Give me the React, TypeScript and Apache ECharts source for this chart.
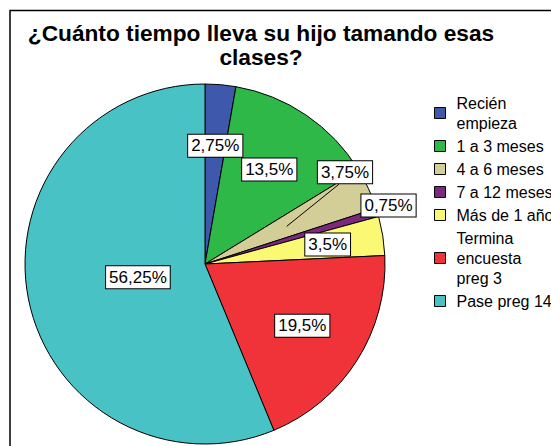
import React, { useEffect, useRef } from "react";
import * as echarts from "echarts";

const categories = [
  "Recién\nempieza",
  "1 a 3 meses",
  "4 a 6 meses",
  "7 a 12 meses",
  "Más de 1 año",
  "Termina\nencuesta\npreg 3",
  "Pase preg 14",
];
const values = [2.75, 13.5, 3.75, 0.75, 3.5, 19.5, 56.25];
const valueLabels = ["2,75%", "13,5%", "3,75%", "0,75%", "3,5%", "19,5%", "56,25%"];
const colors = ["#3E58AC", "#2EB848", "#D3CE97", "#7C287D", "#FBF873", "#EF3338", "#48C2C5"];

// label placement (fraction of radius, angular shift in degrees)
const labelRadius = [0.66, 0.635, 0.93, 1.07, 0.69, 0.64, 0.38];
const labelAngleShift = [0, 0, -8.5, -1, 0, 0, 0];
const leaderIndex = 2;

const CX = 205;
const CY = 264;
const R = 180;
const FONT = "'Liberation Sans', Arial, sans-serif";

export default function App() {
  const ref = useRef<HTMLDivElement>(null);
  useEffect(() => {
    if (!ref.current) return;
    const chart = echarts.init(ref.current, undefined, { renderer: "svg" });
    const total = values.reduce((a, b) => a + b, 0);
    const midFrac = values.map((v, i) => {
      const before = values.slice(0, i).reduce((a, b) => a + b, 0);
      return (before + v / 2) / total;
    });
    const labelPos = values.map((_, i) => {
      const a = (midFrac[i] * 360 + labelAngleShift[i]) * Math.PI / 180;
      const r = R * labelRadius[i];
      return [CX + r * Math.sin(a), CY - r * Math.cos(a)];
    });
    const a0 = midFrac[leaderIndex] * 2 * Math.PI;
    const leaderStart = [CX + R * 0.5 * Math.sin(a0), CY - R * 0.5 * Math.cos(a0)];
    const leaderEnd = [labelPos[leaderIndex][0] - 6, labelPos[leaderIndex][1] + 12];

    chart.setOption({
      animation: false,
      backgroundColor: "#fff",
      title: {
        text: "¿Cuánto tiempo lleva su hijo tamando esas\nclases?",
        left: 261,
        top: 21,
        padding: 0,
        textAlign: "center",
        textStyle: {
          fontFamily: FONT,
          fontSize: 22.7,
          fontWeight: "bold",
          color: "#000",
          lineHeight: 24,
        },
      },
      graphic: [
        {
          type: "rect",
          shape: { x: 10, y: 10.5, width: 620, height: 520 },
          style: { fill: "none", stroke: "#000", lineWidth: 1.5 },
          silent: true,
          z: 1,
        },
        {
          type: "line",
          shape: {
            x1: leaderStart[0],
            y1: leaderStart[1],
            x2: leaderEnd[0],
            y2: leaderEnd[1],
          },
          style: { stroke: "#000", lineWidth: 1 },
          silent: true,
          z: 100,
        },
      ],
      legend: {
        orient: "vertical",
        left: 434,
        top: 93,
        padding: 0,
        itemWidth: 11,
        itemHeight: 11,
        itemGap: 3,
        icon: "rect",
        itemStyle: { borderColor: "#000", borderWidth: 1 },
        textStyle: {
          fontFamily: FONT,
          fontSize: 16,
          lineHeight: 20,
          color: "#000",
          padding: [0, 0, 0, 6],
        },
        data: categories,
      },
      series: [
        {
          type: "pie",
          center: [CX, CY],
          radius: R,
          startAngle: 90,
          clockwise: true,
          avoidLabelOverlap: false,
          silent: true,
          z: 2,
          itemStyle: { borderColor: "#000", borderWidth: 1 },
          label: {
            show: true,
            position: "outside",
            formatter: (p: any) => valueLabels[p.dataIndex],
            fontFamily: FONT,
            fontSize: 17,
            color: "#000",
            backgroundColor: "#fff",
            borderColor: "#000",
            borderWidth: 1,
            padding: [3, 3, 2, 3],
          },
          labelLine: { show: false },
          labelLayout: (p: any) => {
            const [x, y] = labelPos[p.dataIndex];
            return { x, y, align: "center", verticalAlign: "middle" };
          },
          data: values.map((v, i) => ({
            name: categories[i],
            value: v,
            itemStyle: { color: colors[i] },
          })),
        },
      ],
    });
    return () => chart.dispose();
  }, []);
  return (
    <div
      ref={ref}
      style={{ position: "fixed", left: 0, top: 0, width: 551, height: 446 }}
    />
  );
}
